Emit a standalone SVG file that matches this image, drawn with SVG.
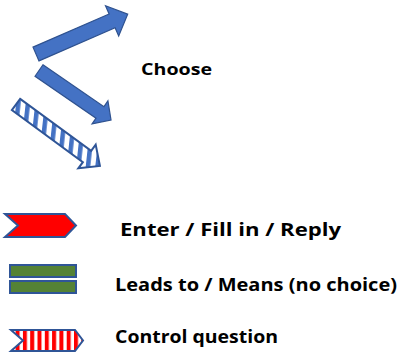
<svg xmlns="http://www.w3.org/2000/svg" width="405" height="360" viewBox="0 0 405 360">
<style>
.lbl{font-family:"Open Sans","Liberation Sans",Arial,sans-serif;font-weight:bold;fill:#000}
.blue{fill:#4472C4;stroke:#2F528F;stroke-width:1.2}
.outl{stroke:#2F5597;stroke-width:2;stroke-linejoin:miter}
</style>
<defs>
<pattern id="bstripe" patternUnits="userSpaceOnUse" width="9.5" height="30" patternTransform="rotate(-30)">
<rect width="9.5" height="30" fill="#fff"/>
<rect width="4.5" height="30" fill="#4472C4"/>
</pattern>
<pattern id="rstripe" patternUnits="userSpaceOnUse" x="1" width="7.3" height="30">
<rect width="7.3" height="30" fill="#fff"/>
<rect width="4" height="30" fill="#FF0000"/>
</pattern>
</defs>
<g id="arrow-up">
<polygon class="blue" transform="translate(36,54) rotate(-23.5)" points="0,-7.5 83,-7.5 83,-16.5 100,0 83,16.5 83,7.5 0,7.5"/>
</g>
<g id="arrow-down">
<polygon class="blue" transform="translate(39,70.5) rotate(34.5)" points="0,-7 74,-7 74,-14 87.4,0 74,14 74,7 0,7"/>
</g>
<g id="arrow-striped">
<polygon transform="translate(16,104.5) rotate(36.2)" fill="url(#bstripe)" stroke="#2F5597" stroke-width="2" points="0,-7 88,-7 88,-14.7 104,0 88,14.7 88,7 0,7"/>
</g>
<g id="choose"><text class="lbl" x="141" y="74.5" font-size="16" textLength="71" lengthAdjust="spacingAndGlyphs">Choose</text></g>
<g id="legend-enter">
<polygon class="outl" fill="#FF0000" points="5,214 65,214 76,225.5 65,237 5,237 18,225.5"/>
<text class="lbl" x="120" y="235.7" font-size="18.5" textLength="221" lengthAdjust="spacingAndGlyphs">Enter / Fill in / Reply</text>
</g>
<g id="legend-leads">
<rect class="outl" fill="#548235" x="10" y="265" width="66" height="12"/>
<rect class="outl" fill="#548235" x="10" y="281" width="66" height="12"/>
<text class="lbl" x="115" y="291" font-size="18.5" textLength="282" lengthAdjust="spacingAndGlyphs">Leads to / Means (no choice)</text>
</g>
<g id="legend-control">
<polygon class="outl" fill="url(#rstripe)" points="11,330 75,330 83,340.5 75,351 11,351 23,340.5"/>
<text class="lbl" x="115" y="342.7" font-size="18.5" textLength="163" lengthAdjust="spacingAndGlyphs">Control question</text>
</g>
<g id="connectors"></g>
</svg>
